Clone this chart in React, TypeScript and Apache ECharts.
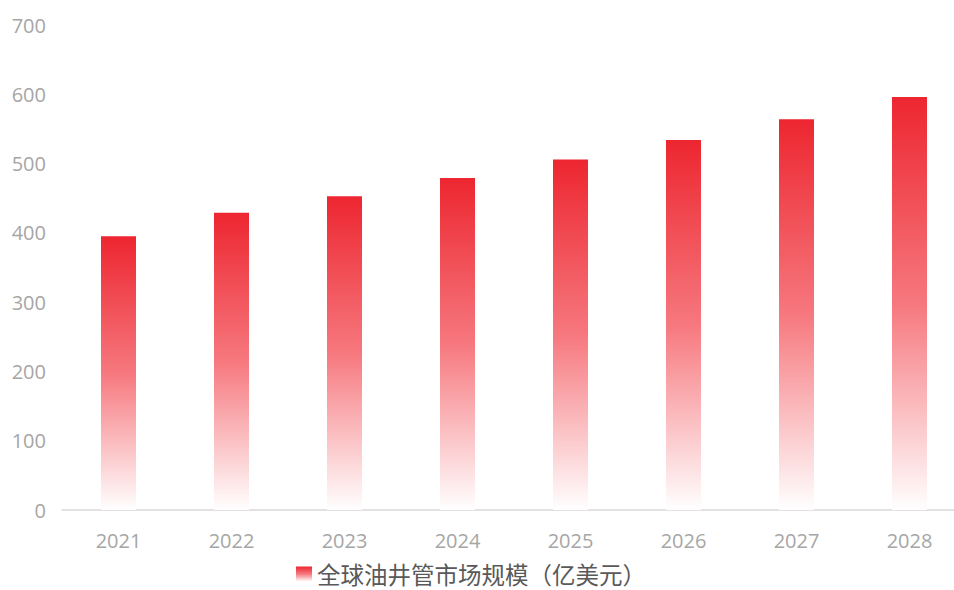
import React, { useEffect, useRef } from "react";
import * as echarts from "echarts";

const categories = ["2021", "2022", "2023", "2024", "2025", "2026", "2027", "2028"];
const marketSize = [395, 429, 453, 479, 506, 534, 564, 596];
const seriesName = "全球油井管市场规模（亿美元）";

export default function App() {
  const ref = useRef<HTMLDivElement>(null);
  useEffect(() => {
    if (!ref.current) return;
    const chart = echarts.init(ref.current, null, { renderer: "svg" });
    const grad = () =>
      new echarts.graphic.LinearGradient(0, 0, 0, 1, [
        { offset: 0, color: "rgb(237,38,48)" },
        { offset: 0.5, color: "rgb(246,120,126)" },
        { offset: 1, color: "rgba(255,255,255,1)" },
      ]);
    chart.setOption({
      animation: false,
      backgroundColor: "#ffffff",
      grid: { left: 62, right: 0, top: 25, bottom: 80, containLabel: false },
      legend: {
        left: 291,
        top: 557,
        itemWidth: 16,
        itemHeight: 15,
        itemGap: 10,
        textStyle: { fontSize: 23.5, lineHeight: 24, color: "#595959", fontFamily: "Noto Sans CJK SC" },
        data: [{ name: seriesName, icon: "rect" }],
      },
      xAxis: {
        type: "category",
        data: categories,
        axisLine: { show: true, lineStyle: { color: "#D9D9D9", width: 1.5 } },
        axisTick: { show: false },
        axisLabel: { color: "#A6A6A6", fontSize: 20, fontFamily: "Open Sans", margin: 20 },
      },
      yAxis: {
        type: "value",
        min: 0,
        max: 700,
        interval: 100,
        splitLine: { show: false },
        axisLine: { show: false },
        axisTick: { show: false },
        axisLabel: { color: "#A6A6A6", fontSize: 20, fontFamily: "Open Sans", margin: 16 },
      },
      series: [
        {
          name: seriesName,
          type: "bar",
          data: marketSize,
          barWidth: 35,
          itemStyle: { color: grad() },
        },
      ],
    });
    return () => chart.dispose();
  }, []);
  return (
    <div style={{ position: "fixed", left: 0, top: 0, width: 954, height: 590, overflow: "hidden" }}>
      <div ref={ref} style={{ width: 966, height: 590 }} />
    </div>
  );
}
